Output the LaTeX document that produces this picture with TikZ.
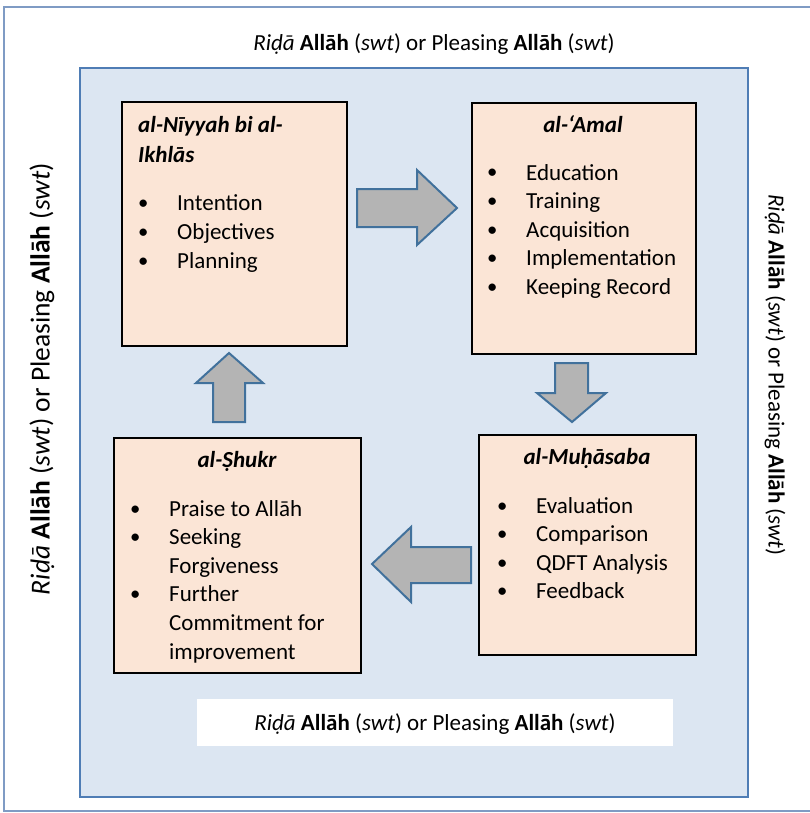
\documentclass[tikz,border=0pt]{standalone}
\usepackage{fontspec}
\setmainfont{Carlito}
\usepackage{array}

\definecolor{framecol}{HTML}{7F9BC4}
\definecolor{panelfill}{HTML}{DCE6F2}
\definecolor{panelline}{HTML}{4F7DB5}
\definecolor{boxfill}{HTML}{FBE5D6}
\definecolor{arrowfill}{HTML}{B4B4B4}
\definecolor{arrowline}{HTML}{41719C}

\newcommand{\pleasing}{\textit{Riḍā} \textbf{Allāh} (\textit{swt}) or Pleasing \textbf{Allāh} (\textit{swt})}
\newcommand{\bul}{\makebox[36pt][l]{\hspace{-3pt}\raisebox{1pt}{\scalebox{0.9}{•}}}}
\newcommand{\cont}{\hspace{36pt}}
% top-aligned stack of lines, so that the node baseline is the first line
\newcommand{\lines}[1]{\begin{tabular}[t]{@{}l@{}}#1\end{tabular}}

\tikzset{
  txt/.style={inner sep=0pt, font=\fontsize{23}{28.6}\selectfont},
  stagebox/.style={draw=black, line width=2pt, fill=boxfill, anchor=north west, inner sep=0pt},
  blockarrow/.style={draw=arrowline, line width=2pt, fill=arrowfill, line join=miter},
  heading/.style={txt, anchor=base, font=\fontsize{23}{30}\selectfont\bfseries\itshape},
  itemlist/.style={txt, anchor=base west}
}

\begin{document}
\begin{tikzpicture}[x=1pt, y=-1pt]
  \useasboundingbox (0,0) rectangle (809,813);

  % outer frame
  \draw[framecol, line width=1.5pt] (4,7) rectangle (830,811);
  \node[txt, anchor=base] (toplabel) at (434,51) {\pleasing};
  \node[txt, rotate=90, font=\fontsize{27.5}{33}\selectfont] (leftlabel) at (42,379) {\pleasing};
  \node[txt, rotate=-90] (rightlabel) at (775,375) {\pleasing};

  % inner panel
  \draw[panelline, line width=2pt, fill=panelfill] (80,68) rectangle (748,797);
  \node[fill=white, minimum width=476pt, minimum height=47pt, inner sep=0pt] (bottompanel) at (435,722.5) {};
  \node[txt, anchor=base] (bottomlabel) at (435,730) {\pleasing};

  % stage boxes
  \node[stagebox, minimum width=225pt, minimum height=244pt] (niyyah) at (121,101) {};
  \node[stagebox, minimum width=224pt, minimum height=251pt] (amal) at (471,102) {};
  \node[stagebox, minimum width=217pt, minimum height=220pt] (muhasaba) at (478,434) {};
  \node[stagebox, minimum width=247pt, minimum height=235pt] (shukr) at (113,437) {};

  % headings
  \node[heading, anchor=base west] (niyyahhead) at (138,133) {\lines{al-Nīyyah bi al-\\Ikhlās}};
  \node[heading] (amalhead) at (583,133) {al-‘Amal};
  \node[heading] (muhasabahead) at (587,464) {al-Muḥāsaba};
  \node[heading] (shukrhead) at (237,467) {al-Ṣhukr};

  % item lists
  \node[itemlist] (niyyahlist) at (141,211) {\lines{\bul Intention\\\bul Objectives\\\bul Planning}};
  \node[itemlist] (amallist) at (490,180) {\lines{\bul Education\\\bul Training\\\bul Acquisition\\\bul Implementation\\\bul Keeping Record}};
  \node[itemlist] (muhasabalist) at (500,513) {\lines{\bul Evaluation\\\bul Comparison\\\bul QDFT Analysis\\\bul Feedback}};
  \node[itemlist] (shukrlist) at (133,516) {\lines{\bul Praise to Allāh\\\bul Seeking\\\cont Forgiveness\\\bul Further\\\cont Commitment for\\\cont improvement}};

  % block arrows between the stages
  \draw[blockarrow] (357,189) -- (417,189) -- (417,170) -- (457,208) -- (417,245) -- (417,227) -- (357,227) -- cycle;
  \draw[blockarrow] (555,363) -- (588,363) -- (588,393) -- (606,393) -- (572,422) -- (537,393) -- (555,393) -- cycle;
  \draw[blockarrow] (471,547) -- (411,547) -- (411,527) -- (372,564) -- (411,602) -- (411,583) -- (471,583) -- cycle;
  \draw[blockarrow] (229,353) -- (263,383) -- (245,383) -- (245,422) -- (213,422) -- (213,383) -- (196,383) -- cycle;
\end{tikzpicture}
\end{document}
